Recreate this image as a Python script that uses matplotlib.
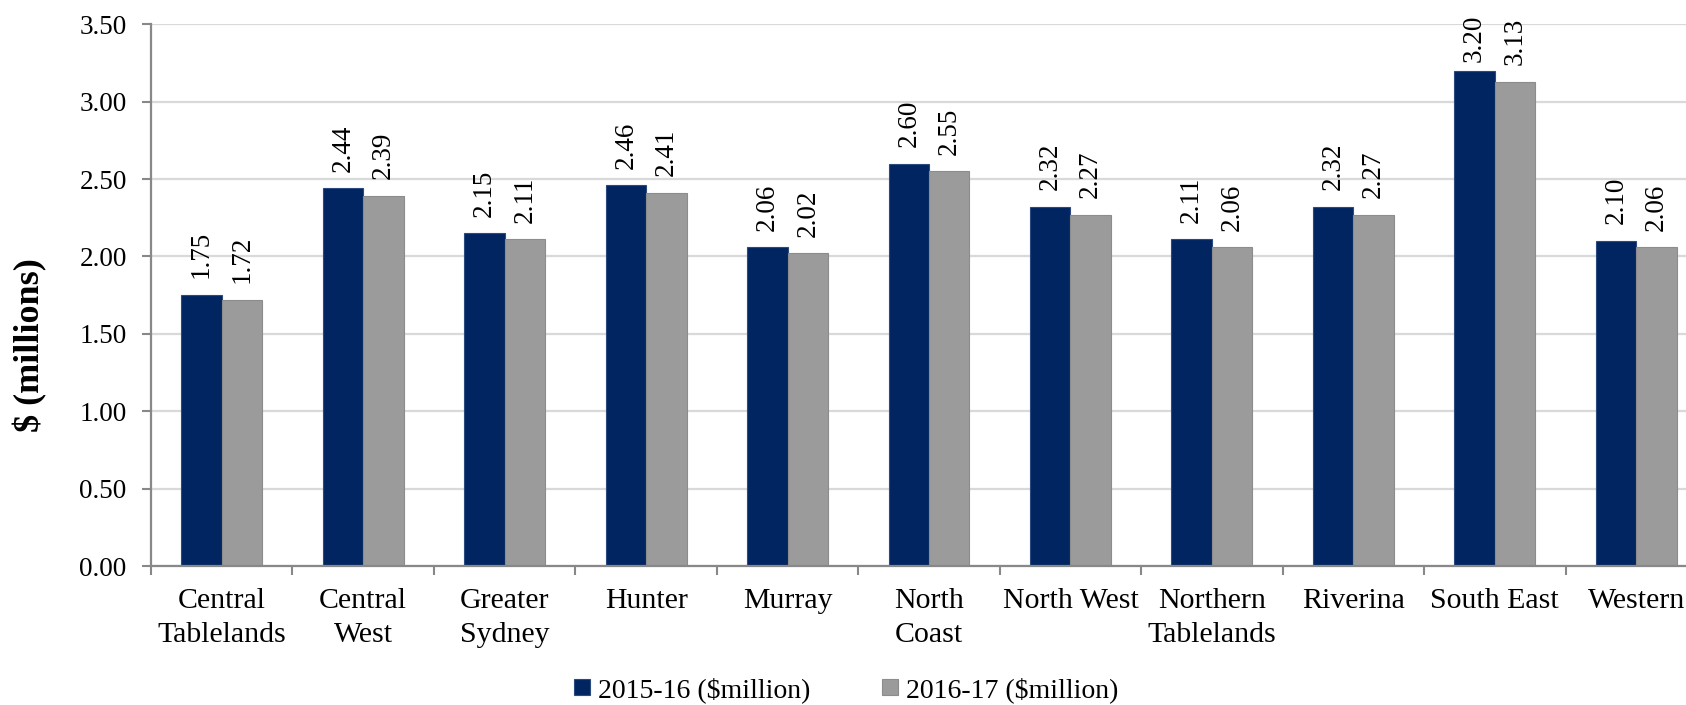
import matplotlib.pyplot as plt
import numpy as np

# Dados
regioes = ['Central\nTablelands', 'Central\nWest', 'Greater\nSydney', 'Hunter', 'Murray',
           'North\nCoast', 'North West', 'Northern\nTablelands', 'Riverina', 'South East', 'Western']
valores_2015 = [1.75, 2.44, 2.15, 2.46, 2.06, 2.60, 2.32, 2.11, 2.32, 3.20, 2.10]
valores_2016 = [1.72, 2.39, 2.11, 2.41, 2.02, 2.55, 2.27, 2.06, 2.27, 3.13, 2.06]
serie_nomes = ['2015-16 ($million)', '2016-17 ($million)']
yticks = [0.0, 0.5, 1.0, 1.5, 2.0, 2.5, 3.0, 3.5]

cor_azul = '#002561'
cor_cinza = '#9b9b9b'

plt.rcParams['font.family'] = ['Liberation Serif', 'DejaVu Serif']

fig = plt.figure(figsize=(16.86, 7.05), dpi=100)
W, H = 1686, 705
# eixo vai um pouco além da borda direita, como no original
ax = fig.add_axes([151 / W, (H - 566) / H, (1707 - 151) / W, (566 - 24.3) / H])

x = np.arange(len(regioes))
larg = 0.286
b1 = ax.bar(x - larg / 2, valores_2015, larg, color=cor_azul, edgecolor='#2a4a80', linewidth=0.8, zorder=3)
b2 = ax.bar(x + larg / 2, valores_2016, larg, color=cor_cinza, edgecolor='#8c8c8c', linewidth=0.8, zorder=3)

# Rótulos de valores (o rótulo mais alto é empurrado para baixo para não sair da área)
pts_por_unidade = (566 - 24.3) / 3.5 * 72 / 100
for barras, vals in [(b1, valores_2015), (b2, valores_2016)]:
    for r, v in zip(barras, vals):
        desloc = min(12, (3.5 - v) * pts_por_unidade + 9 - 36)
        ax.annotate(f'{v:.2f}', (r.get_x() + r.get_width() / 2, v), xytext=(0, desloc),
                    textcoords='offset points', rotation=90, ha='center', va='bottom',
                    fontsize=19.5, color='black')

ax.set_xlim(-0.5, len(regioes) - 0.5)
ax.set_ylim(0, 3.5)
ax.set_yticks(yticks)
ax.set_yticklabels([f'{t:.2f}' for t in yticks], fontsize=19.5)
ax.set_xticks(x)
ax.set_xticklabels(regioes, fontsize=21.5, linespacing=1.4)
ax.set_xticks(np.arange(len(regioes) + 1) - 0.5, minor=True)
ax.tick_params(axis='x', which='major', length=0, pad=16)
ax.tick_params(axis='x', which='minor', length=6.5, width=1.5, color='#888888')
ax.tick_params(axis='y', length=6.5, width=1.5, color='#888888', pad=11)

ax.grid(axis='y', color='#d9d9d9', linewidth=1.6, zorder=0)
for s in ['top', 'right']:
    ax.spines[s].set_visible(False)
for s in ['left', 'bottom']:
    ax.spines[s].set_color('#888888')
    ax.spines[s].set_linewidth(1.6)
    ax.spines[s].set_zorder(4)

fig.text(30 / W, 1 - 345 / H, '$ (millions)', rotation=90, ha='center', va='center',
         fontsize=26, fontweight='bold')

fig.legend([b1, b2], serie_nomes, loc='center', bbox_to_anchor=(0.502, (H - 690) / H), ncol=2,
           frameon=False, fontsize=20, handlelength=0.55, handleheight=0.55,
           handletextpad=0.3, columnspacing=2.6)

plt.savefig('out.png', dpi=100)
